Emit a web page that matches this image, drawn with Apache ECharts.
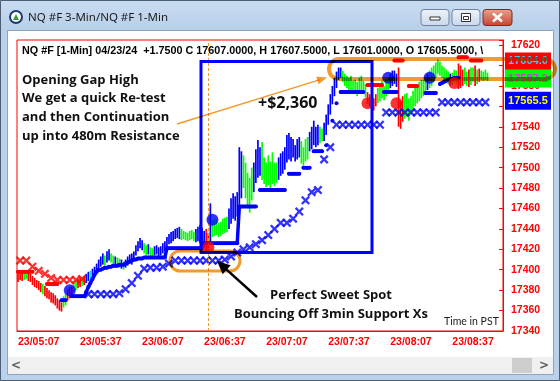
<!DOCTYPE html>
<html><head><meta charset="utf-8">
<script src="https://cdn.jsdelivr.net/npm/echarts@6/dist/echarts.min.js"></script>
<style>html,body{margin:0;padding:0;background:#fff}#c{width:560px;height:381px}</style>
</head><body><div id="c"></div>
<script>
// ---------- DATA ----------
const firstMinute = 4 * 60 + 57;   // 04:57
const minuteCount = 235;
const categories = Array.from({length: minuteCount}, (_, i) => {
  const m = firstMinute + i;
  return '23/' + String(Math.floor(m / 60)).padStart(2, '0') + ':' + String(m % 60).padStart(2, '0');
});

// 1-min bars: low / high / colour code (r=red, g=green, b=blue, c=cyan)
const barLow = [
17388,17390,17389,17390,17391,17389,17388,17385,17383,17382,
17380,17378,17376,17374,17372,17371,17368,17367,17365,17362,
17360,17359,17363,17365,17370,17372,17374,17378,17380,17382,
17383,17384,17385,17387,17389,17390,17392,17394,17397,17400,
17403,17405,17404,17407,17409,17407,17405,17403,17404,17402,
17401,17400,17402,17404,17406,17405,17408,17414,17418,17421,
17419,17416,17414,17415,17413,17412,17414,17415,17413,17414,
17416,17418,17422,17425,17426,17428,17430,17431,17430,17429,
17430,17429,17428,17429,17430,17428,17427,17428,17426,17424,
17422,17418,17416,17427,17432,17433,17434,17432,17433,17435,
17436,17437,17440,17445,17450,17448,17452,17462,17470,17480,
17470,17463,17456,17468,17476,17485,17490,17492,17488,17484,
17481,17483,17480,17484,17482,17485,17488,17492,17494,17498,
17505,17508,17506,17510,17506,17508,17510,17504,17502,17506,
17508,17516,17518,17522,17520,17522,17524,17526,17526,17532,
17542,17552,17562,17570,17578,17586,17588,17584,17580,17578,
17576,17575,17572,17574,17570,17573,17576,17572,17569,17562,
17560,17557,17556,17560,17563,17565,17568,17566,17570,17572,
17578,17580,17582,17579,17540,17538,17545,17548,17550,17546,
17552,17556,17560,17563,17565,17568,17570,17574,17576,17578,
17580,17584,17588,17592,17590,17588,17585,17583,17582,17580,
17581,17583,17582,17577,17578,17580,17582,17580,17579,17581,
17584,17580,17582,17584,17586,17585,17586,17585];
const barHigh = [
17399,17398,17397,17397,17398,17398,17396,17394,17392,17390,
17389,17387,17386,17384,17382,17380,17378,17377,17375,17372,
17370,17368,17374,17376,17381,17383,17384,17388,17390,17391,
17392,17393,17394,17396,17398,17399,17401,17403,17406,17410,
17413,17416,17414,17418,17420,17416,17414,17413,17412,17411,
17410,17408,17410,17413,17415,17416,17418,17424,17428,17431,
17429,17426,17424,17425,17422,17421,17423,17424,17422,17423,
17426,17428,17432,17435,17437,17438,17440,17441,17442,17440,
17438,17437,17436,17438,17439,17437,17440,17442,17444,17441,
17438,17440,17436,17465,17448,17450,17449,17446,17447,17450,
17451,17452,17460,17470,17475,17472,17476,17520,17516,17512,
17505,17495,17490,17500,17505,17518,17527,17520,17525,17510,
17505,17512,17506,17515,17505,17505,17510,17514,17516,17520,
17532,17534,17530,17528,17522,17528,17530,17526,17520,17528,
17530,17535,17540,17546,17540,17542,17540,17538,17544,17552,
17562,17572,17580,17588,17594,17598,17598,17595,17592,17590,
17588,17590,17585,17586,17584,17588,17590,17585,17582,17574,
17572,17570,17568,17572,17578,17582,17585,17580,17586,17588,
17592,17595,17595,17592,17598,17565,17570,17572,17573,17568,
17570,17575,17578,17580,17584,17586,17586,17590,17592,17595,
17598,17600,17603,17606,17604,17600,17598,17596,17594,17592,
17593,17596,17595,17602,17600,17596,17598,17594,17596,17598,
17598,17600,17596,17597,17595,17594,17596,17593];
const barColor =
  "rrrggrrrrr" + "rrgrrrrrrr" + "rrggrrrggr" + "rgrbbcbbbb" + "bbgbbggbgg" +
  "bgbbbbbbbb" + "bggbggbbbb" + "bbbbbbbbbg" + "ggggggbbbb" + "brrbgggggg" +
  "ggbbbbbbbg" + "ggggbbbbgg" + "ggggggbbbb" + "bbbbbbbggg" + "gbbbbbggbb" +
  "bbbbbbbggg" + "gggggggggr" + "rrrrgggggg" + "bbbbrrrggg" + "ggggggggbg" +
  "gggggggggb" + "gggrrrggrg" + "grgrgggg";

// 3-min support / resistance Xs (one per 3-min bar), colour code r/b
const xsValue = [
17409,17409,17403,17399,17396,17392,17390,17390,17390,17390,17391,
17376,17376,17376,17376,17376,17377,
17381,17387,17394,17401,17402,17402,17403,17406,
17409,17409,17409,17409,17409,17409,17409,17409,
17410,17413,17417,17420,17422,17425,17429,17434,17440,17446,17446,17450,17457,17468,17476,17478,17508,17520,
17542,17542,17542,17542,17542,17542,17542,17542,
17554,17554,17554,17554,17554,17554,17554,17554,17554,
17564,17564,17564,17564,17564,17564,17564,17564];
const xsColor = "rrrrrrrrrrr" + "b".repeat(65);

// 1-min trailing stop dashes: [start bar index, values]
const blueStopSegments = [
  [21, [17370,17370,17370]],
  [26, [17374,17374,17374,17374,17374,17374,17374,17378,17383,17387,17391,17395,17398,17400,17400,17401,
        17402,17402,17403,17403,17404,17404,17404,17405,17405,17405,17406,17407,17408,17409,17410,17410,
        17411,17411,17411,17412,17412,17412,17412,17412,17412,17412,17412,17412,17412,17412,
        17421,17421,17421,17421,17421,17421,17421,17421,17421,17421,17421,17421,17421,17421,17421,17421,17421,17421,
        17426,17426,17426,17426,17426,17426,17426,17426,17426,17426,17426,17426,17426,17426,17426,17426,17426]],
  [107, [17462,17462,17462,17462,17462,17462,17462,17462,17462]],
  [117, [17478,17478,17478,17478,17478,17478,17478,17478,17478,17478,17478,17478,17478]],
  [131, [17494,17494,17494,17494,17494,17494]],
  [138, [17500,17500,17500,17500]],
  [143, [17516,17516,17516,17516,17516]],
  [149, [17522]],
  [152, [17546]],
  [154, [17563]],
  [156, [17574,17574,17574,17574,17574,17574,17574,17574,17574,17574,17574,17574]],
  [177, [17574,17574,17574,17574,17574,17574,17574]],
  [197, [17573,17573,17573,17573,17573,17573]],
  [204, [17582,17583,17584,17585,17586,17587,17587,17588,17588,17588]]
];
const redStopSegments = [
  [0, [17398,17398,17398,17398,17398,17398,17398,17398]],
  [14, [17386,17386,17386,17386,17386,17386]],
  [169, [17581,17581,17581,17581,17581,17581,17581,17581]],
  [182, [17605,17605,17605,17605,17605]],
  [189, [17580,17580,17580,17580,17580]],
  [213, [17608,17608,17608,17608,17608]],
  [219, [17605,17605,17605,17605,17605,17605]]
];

// signal dots
const blueDotIndex = [25, 94, 179, 199];
const blueDotValue = [17380, 17449, 17588, 17588];
const redDotIndex = [92, 169, 183, 211];
const redDotValue = [17422, 17563, 17563, 17583];

// right-side price tags
const tagValues = [17604.0, 17587.2, 17565.5];
const tagText = ['17604.0', '17587.2', '17565.5'];

const markTime = '23/06:29';
const headerText = 'NQ #F [1-Min] 04/23/24  +1.7500 C 17607.0000, H 17607.5000, L 17601.0000, O 17605.5000, \\';

// ---------- CHART ----------
const COL = {r: '#ff0000', g: '#00ff00', b: '#0000ff', c: '#00e0ff'};
const ORANGE = '#f39a2e';
const XPATH = 'path://M0,1.8L1.8,0L5,3.2L8.2,0L10,1.8L6.8,5L10,8.2L8.2,10L5,6.8L1.8,10L0,8.2L3.2,5Z';

function buildSegments(segs) {
  const arr = new Array(categories.length).fill(null);
  segs.forEach(([s, vals]) => vals.forEach((v, j) => { arr[s + j] = v; }));
  return arr;
}

const chart = echarts.init(document.getElementById('c'), null, {renderer: 'canvas'});

const option = {
  animation: false,
  backgroundColor: '#ffffff',
  grid: {left: 17, right: 57, top: 40, bottom: 50, show: true, borderColor: '#ff0000', borderWidth: 1, backgroundColor: 'transparent'},
  xAxis: {
    type: 'category', data: categories, boundaryGap: true,
    axisLine: {lineStyle: {color: '#ff0000', width: 1}},
    axisTick: {alignWithLabel: true, interval: (i) => i % 10 === 0, length: 5, lineStyle: {color: '#ff0000'}},
    axisLabel: {interval: (i) => i % 30 === 10, color: '#ff0000', fontWeight: 'bold', fontSize: 10.5, fontFamily: '"Liberation Sans", Arial', margin: 6},
    splitLine: {show: false}
  },
  yAxis: {
    type: 'value', position: 'right', min: 17340, max: 17625, interval: 20,
    axisLine: {show: true, lineStyle: {color: '#ff0000'}},
    axisTick: {show: true, inside: true, length: 4, lineStyle: {color: '#ff0000'}},
    axisLabel: {color: '#ff0000', fontWeight: 'bold', fontSize: 10.5, fontFamily: '"Liberation Sans", Arial', margin: 8,
      formatter: (v) => (v % 20 === 0 ? String(v) : '')},
    splitLine: {show: false}
  },
  series: [
    {
      type: 'custom', name: 'bars', z: 2,
      data: barLow.map((lo, i) => [i, lo, barHigh[i]]),
      encode: {x: 0, y: [1, 2]},
      renderItem: (params, api) => {
        const p1 = api.coord([api.value(0), api.value(1)]);
        const p2 = api.coord([api.value(0), api.value(2)]);
        return {type: 'line', shape: {x1: p1[0], y1: p1[1], x2: p1[0], y2: p2[1]},
          style: {stroke: COL[barColor[params.dataIndex]], lineWidth: 1.7}};
      }
    },
    {
      type: 'line', name: 'blueStop', z: 3, data: buildSegments(blueStopSegments),
      connectNulls: false, showSymbol: true, showAllSymbol: true, symbol: 'circle', symbolSize: 4,
      itemStyle: {color: '#0000ff'}, lineStyle: {color: '#0000ff', width: 3.5, cap: 'round'},
      markLine: {silent: true, symbol: ['none', 'none'], label: {show: false},
        lineStyle: {color: ORANGE, type: [3, 2], width: 1}, data: [{xAxis: markTime}]}
    },
    {
      type: 'line', name: 'redStop', z: 3, data: buildSegments(redStopSegments),
      connectNulls: false, showSymbol: true, showAllSymbol: true, symbol: 'circle', symbolSize: 4,
      itemStyle: {color: '#ff0000'}, lineStyle: {color: '#ff0000', width: 3.5, cap: 'round'}
    },
    {
      type: 'scatter', name: 'redXs', z: 4, symbol: XPATH, symbolSize: 9,
      itemStyle: {color: '#ff0000'},
      data: xsValue.map((v, k) => [3 * k + 1, v]).filter((d, k) => xsColor[k] === 'r')
    },
    {
      type: 'scatter', name: 'blueXs', z: 4, symbol: XPATH, symbolSize: 9,
      itemStyle: {color: '#0000ff'},
      data: xsValue.map((v, k) => [3 * k + 1, v]).filter((d, k) => xsColor[k] === 'b')
    },
    {
      type: 'scatter', name: 'blueDots', z: 5, symbol: 'circle', symbolSize: 12,
      itemStyle: {color: '#0000ff'},
      data: blueDotIndex.map((i, k) => [i, blueDotValue[k]])
    },
    {
      type: 'scatter', name: 'redDots', z: 5, symbol: 'circle', symbolSize: 12,
      itemStyle: {color: '#ff0000'},
      data: redDotIndex.map((i, k) => [i, redDotValue[k]])
    }
  ]
};
chart.setOption(option);

// ---------- GRAPHICS (window chrome + annotations) ----------
const g = [];
const grad = (a, b) => new echarts.graphic.LinearGradient(0, 0, 0, 1, [{offset: 0, color: a}, {offset: 1, color: b}]);
// frame
g.push({type: 'rect', z: 0, shape: {x: 0, y: 0, width: 560, height: 31}, style: {fill: grad('#c9dcf1', '#b8cfe9')}});
g.push({type: 'rect', z: 0, shape: {x: 0, y: 31, width: 8, height: 350}, style: {fill: '#b9d1ea'}});
g.push({type: 'rect', z: 0, shape: {x: 553, y: 31, width: 7, height: 350}, style: {fill: '#b9d1ea'}});
g.push({type: 'rect', z: 0, shape: {x: 0, y: 374, width: 560, height: 7}, style: {fill: '#b9d1ea'}});
g.push({type: 'rect', z: 0, shape: {x: 0.5, y: 0.5, width: 559, height: 380}, style: {fill: null, stroke: '#4d5d73', lineWidth: 1}});
g.push({type: 'rect', z: 0, shape: {x: 7.5, y: 30.5, width: 546, height: 344}, style: {fill: null, stroke: '#8ea4c0', lineWidth: 1}});
// scrollbar
g.push({type: 'rect', z: 0, shape: {x: 8, y: 357, width: 545, height: 17}, style: {fill: '#f0f0f0'}});
g.push({type: 'rect', z: 0, shape: {x: 512, y: 358, width: 20, height: 15}, style: {fill: '#cdcdcd'}});
g.push({type: 'text', z: 1, x: 16, y: 365.5, style: {text: '<', font: 'bold 12px "DejaVu Sans"', fill: '#606060', align: 'center', verticalAlign: 'middle'}});
g.push({type: 'text', z: 1, x: 544, y: 365.5, style: {text: '>', font: 'bold 12px "DejaVu Sans"', fill: '#606060', align: 'center', verticalAlign: 'middle'}});
// title icon and text
g.push({type: 'circle', z: 1, shape: {cx: 16, cy: 17, r: 7}, style: {fill: '#1d3b6e'}});
g.push({type: 'circle', z: 1, shape: {cx: 16, cy: 17, r: 5}, style: {fill: '#ffffff'}});
g.push({type: 'polygon', z: 1, shape: {points: [[13, 20], [16, 14], [19, 20]]}, style: {fill: '#3a9a3a'}});
g.push({type: 'text', z: 1, x: 28, y: 17.5, style: {text: 'NQ #F 3-Min/NQ #F 1-Min', font: '11.5px "Noto Sans"', fill: '#1a1a1a', verticalAlign: 'middle'}});
// window buttons
g.push({type: 'rect', z: 1, shape: {x: 421, y: 9.5, width: 28, height: 16, r: 3}, style: {fill: grad('#eef3fa', '#c9d8ec'), stroke: '#6f819c'}});
g.push({type: 'rect', z: 1, shape: {x: 430, y: 17, width: 10, height: 3}, style: {fill: '#ffffff', stroke: '#333333', lineWidth: 1}});
g.push({type: 'rect', z: 1, shape: {x: 452, y: 9.5, width: 28, height: 16, r: 3}, style: {fill: grad('#eef3fa', '#c9d8ec'), stroke: '#6f819c'}});
g.push({type: 'rect', z: 1, shape: {x: 461.5, y: 13.5, width: 9, height: 8}, style: {fill: '#ffffff', stroke: '#333333', lineWidth: 1}});
g.push({type: 'rect', z: 1, shape: {x: 463.5, y: 16.5, width: 5, height: 3}, style: {fill: '#ffffff', stroke: '#333333', lineWidth: 1}});
g.push({type: 'rect', z: 1, shape: {x: 483, y: 9.5, width: 29, height: 16, r: 3}, style: {fill: grad('#e8a393', '#c5422d'), stroke: '#7b2b20'}});
g.push({type: 'line', z: 1, shape: {x1: 493, y1: 13.5, x2: 502, y2: 21.5}, style: {stroke: '#ffffff', lineWidth: 2.5}});
g.push({type: 'line', z: 1, shape: {x1: 502, y1: 13.5, x2: 493, y2: 21.5}, style: {stroke: '#ffffff', lineWidth: 2.5}});

// header
g.push({type: 'text', z: 100, x: 22, y: 51, style: {text: headerText, font: 'bold 10.8px "Liberation Sans"', fill: '#000000', verticalAlign: 'middle'}});

// price tags
const tagBg = ['#ff0000', '#00ff00', '#0000ff'];
const tagFg = ['#38c8f0', '#c83cdc', '#ffff00'];
tagValues.forEach((v, k) => {
  const y = chart.convertToPixel({yAxisIndex: 0}, v);
  g.push({type: 'rect', z: 80, shape: {x: 505, y: y - 9, width: 46, height: 18}, style: {fill: tagBg[k]}});
  g.push({type: 'text', z: 81, x: 528, y: y, style: {text: tagText[k], font: 'bold 11px "Liberation Sans"', fill: tagFg[k], align: 'center', verticalAlign: 'middle'}});
});

// blue box
g.push({type: 'rect', z: 90, shape: {x: 201, y: 61.5, width: 171, height: 191}, style: {fill: null, stroke: '#0000ff', lineWidth: 3}});
// orange rounded boxes
g.push({type: 'rect', z: 95, shape: {x: 170, y: 251, width: 70, height: 20, r: 10}, style: {fill: null, stroke: ORANGE, lineWidth: 3, blend: 'multiply'}});
g.push({type: 'rect', z: 95, shape: {x: 329, y: 59, width: 226, height: 20, r: 10}, style: {fill: null, stroke: ORANGE, lineWidth: 4, blend: 'multiply'}});

function arrow(x1, y1, x2, y2, color, width, headLen, headHalf, blend) {
  const dx = x2 - x1, dy = y2 - y1, L = Math.hypot(dx, dy), ux = dx / L, uy = dy / L;
  const bx = x2 - ux * headLen, by = y2 - uy * headLen;
  const st = {stroke: color, lineWidth: width};
  const sf = {fill: color};
  if (blend) { st.blend = blend; sf.blend = blend; }
  g.push({type: 'line', z: 96, shape: {x1: x1, y1: y1, x2: bx + ux * 2, y2: by + uy * 2}, style: st});
  g.push({type: 'polygon', z: 96, shape: {points: [[x2, y2], [bx - uy * headHalf, by + ux * headHalf], [bx + uy * headHalf, by - ux * headHalf]]}, style: sf});
}
arrow(177, 124, 327, 77.5, ORANGE, 1.5, 10, 4, 'multiply');
arrow(257, 297, 217, 261, '#000000', 2.5, 13, 6, null);

// annotation texts
const annFont = 'bold 13px "Open Sans"';
['Opening Gap High', 'We get a quick Re-test', 'and then Continuation', 'up into 480m Resistance'].forEach((t, k) => {
  g.push({type: 'text', z: 100, x: 22, y: 80 + k * 18.6, style: {text: t, font: annFont, fill: '#111111', verticalAlign: 'middle'}});
});
g.push({type: 'text', z: 100, x: 258, y: 103, style: {text: '+$2,360', font: 'bold 16px "Open Sans"', fill: '#111111', verticalAlign: 'middle'}});
g.push({type: 'text', z: 100, x: 331, y: 295, style: {text: 'Perfect Sweet Spot', font: annFont, fill: '#111111', align: 'center', verticalAlign: 'middle'}});
g.push({type: 'text', z: 100, x: 331, y: 314, style: {text: 'Bouncing Off 3min Support Xs', font: annFont, fill: '#111111', align: 'center', verticalAlign: 'middle'}});
g.push({type: 'text', z: 100, x: 444, y: 321.5, style: {text: 'Time in PST', font: '10.5px Lato', fill: '#222222', verticalAlign: 'middle'}});

chart.setOption({graphic: {elements: g}});
</script>
</body></html>
